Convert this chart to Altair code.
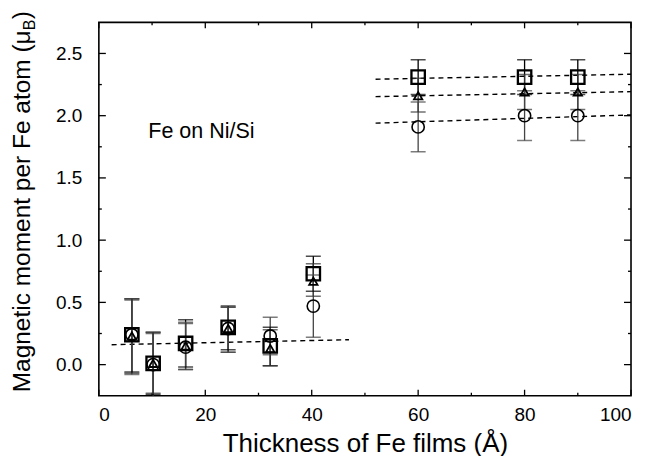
import altair as alt
import pandas as pd

# ---------------- data ----------------
thickness = [6.2, 10.2, 16.3, 24.3, 32.2, 40.3, 60, 80, 90]

sq_m  = [0.24, 0.01, 0.17, 0.30, 0.15, 0.73, 2.31, 2.31, 2.31]
sq_lo = [-0.06, -0.24, -0.02, 0.12, -0.01, 0.59, 2.17, 2.17, 2.17]
sq_hi = [0.53, 0.26, 0.36, 0.47, 0.30, 0.87, 2.45, 2.45, 2.45]

tr_m  = [0.23, 0.01, 0.15, 0.29, 0.13, 0.67, 2.16, 2.19, 2.19]
tr_lo = [-0.07, -0.23, -0.04, 0.10, -0.01, 0.55, 2.03, 2.05, 2.05]
tr_hi = [0.52, 0.25, 0.33, 0.46, 0.28, 0.81, 2.30, 2.33, 2.33]

ci_m  = [0.24, 0.00, 0.14, 0.29, 0.23, 0.47, 1.91, 2.00, 2.00]
ci_lo = [-0.08, -0.30, -0.04, 0.10, 0.08, 0.22, 1.71, 1.80, 1.80]
ci_hi = [0.53, 0.26, 0.34, 0.46, 0.38, 0.72, 2.11, 2.20, 2.20]

# dashed guide lines (end points)
fit_names = ["low", "square", "triangle", "circle"]
fit_x0 = [2.4, 52, 52, 52]
fit_x1 = [47, 100, 100, 100]
fit_y0 = [0.16, 2.293, 2.153, 1.940]
fit_y1 = [0.20, 2.333, 2.193, 2.006]

x_major = [0, 20, 40, 60, 80, 100]
x_minor = [10, 30, 50, 70, 90]
y_major = [0.0, 0.5, 1.0, 1.5, 2.0, 2.5]
y_minor = [0.25, 0.75, 1.25, 1.75, 2.25]

annotation = "Fe on Ni/Si"
x_title = "Thickness of Fe films (Å)"
y_title_main = "Magnetic moment per Fe atom (μ"
y_title_sub = "B"
y_title_end = ")"

# ---------------- tables ----------------
rows = []
for name, ms, los, his in [("square", sq_m, sq_lo, sq_hi),
                           ("triangle", tr_m, tr_lo, tr_hi),
                           ("circle", ci_m, ci_lo, ci_hi)]:
    for x, m, lo, hi in zip(thickness, ms, los, his):
        rows.append({"series": name, "x": x, "y": m, "lo": lo, "hi": hi})
df = pd.DataFrame(rows)

fit_rows = []
for n, a, b, c, d in zip(fit_names, fit_x0, fit_x1, fit_y0, fit_y1):
    fit_rows.append({"line": n, "x": a, "y": c})
    fit_rows.append({"line": n, "x": b, "y": d})
fit_df = pd.DataFrame(fit_rows)

W, H = 533, 374
FONT = "Liberation Sans"

xs = alt.Scale(domain=[0, 100], nice=False, zero=False)
ys = alt.Scale(domain=[-0.25, 2.75], nice=False, zero=False)

x_axis = alt.Axis(values=x_major, ticks=False, domain=False, grid=False,
                  labelFontSize=19, labelPadding=10, labelFont=FONT,
                  labelColor="black", title=x_title, titleFontSize=26,
                  titleFont=FONT, titleFontWeight="normal", titleColor="black",
                  titlePadding=6, format="d")
y_axis = alt.Axis(values=y_major, ticks=False, domain=False, grid=False,
                  labelFontSize=19, labelPadding=17, labelFont=FONT,
                  labelColor="black", format=".1f", title=None)


def X(field):
    return alt.X(f"{field}:Q", scale=xs, axis=x_axis)


def Y(field):
    return alt.Y(f"{field}:Q", scale=ys, axis=y_axis)


layers = []

# tick marks (inward, mirrored on all four sides)
def xticks(vals, length):
    d = pd.DataFrame({"x": vals})
    bottom = alt.Chart(d).mark_rule(color="black", strokeWidth=1.3).encode(
        x=X("x"), y=alt.value(H), y2=alt.value(H - length))
    top = alt.Chart(d).mark_rule(color="black", strokeWidth=1.3).encode(
        x=X("x"), y=alt.value(0), y2=alt.value(length))
    return [bottom, top]


def yticks(vals, length):
    d = pd.DataFrame({"y": vals})
    left = alt.Chart(d).mark_rule(color="black", strokeWidth=1.3).encode(
        y=Y("y"), x=alt.value(0), x2=alt.value(length))
    right = alt.Chart(d).mark_rule(color="black", strokeWidth=1.3).encode(
        y=Y("y"), x=alt.value(W), x2=alt.value(W - length))
    return [left, right]


layers += xticks(x_major, 6) + xticks(x_minor, 3)
layers += yticks(y_major, 7) + yticks(y_minor, 3)

# dashed guide lines
fit = alt.Chart(fit_df).mark_line(color="black", strokeWidth=1.4,
                                  strokeDash=[5, 4], clip=True).encode(
    x=X("x"), y=Y("y"), detail="line:N")
layers.append(fit)

# error bars
bar_color = alt.Color("series:N", scale=alt.Scale(
    domain=["square", "triangle", "circle"],
    range=["#000000", "#333333", "#444444"]), legend=None)
cap_color = alt.Color("series:N", scale=alt.Scale(
    domain=["square", "triangle", "circle"],
    range=["#000000", "#8a8a8a", "#555555"]), legend=None)

bars = alt.Chart(df).mark_rule(strokeWidth=1.3, clip=True).encode(
    x=X("x"), y=Y("lo"), y2="hi:Q", color=bar_color)
caps_lo = alt.Chart(df).mark_tick(orient="horizontal", size=15, thickness=1.5,
                                  clip=True).encode(
    x=X("x"), y=Y("lo"), color=cap_color)
caps_hi = alt.Chart(df).mark_tick(orient="horizontal", size=15, thickness=1.5,
                                  clip=True).encode(
    x=X("x"), y=Y("hi"), color=cap_color)
layers += [bars, caps_lo, caps_hi]

# markers
circ = alt.Chart(df[df.series == "circle"]).mark_point(
    shape="circle", size=150, filled=False, color="black", strokeWidth=1.6,
    opacity=1).encode(x=X("x"), y=Y("y"))
sq = alt.Chart(df[df.series == "square"]).mark_point(
    shape="square", size=180, filled=False, color="black", strokeWidth=2.3,
    opacity=1).encode(x=X("x"), y=Y("y"))
tri = alt.Chart(df[df.series == "triangle"]).mark_point(
    shape="triangle-up", size=70, filled=False, color="black", strokeWidth=1.8,
    opacity=1).encode(x=X("x"), y=Y("y"))
layers += [circ, sq, tri]

# annotation
ann = alt.Chart(pd.DataFrame({"x": [9.3], "y": [1.87], "t": [annotation]})).mark_text(
    align="left", baseline="middle", fontSize=21.5, font=FONT, color="black").encode(
    x=X("x"), y=Y("y"), text="t:N")
layers.append(ann)

# y axis title with subscript
TX = -76
YE = 8
t1 = alt.Chart(pd.DataFrame({"t": [y_title_main]})).mark_text(
    angle=270, align="right", baseline="middle", fontSize=24.5, font=FONT,
    color="black").encode(x=alt.value(TX), y=alt.value(YE), text="t:N")
t2 = alt.Chart(pd.DataFrame({"t": [y_title_sub]})).mark_text(
    angle=270, align="left", baseline="middle", fontSize=16, font=FONT,
    color="black").encode(x=alt.value(TX + 7), y=alt.value(YE), text="t:N")
t3 = alt.Chart(pd.DataFrame({"t": [y_title_end]})).mark_text(
    angle=270, align="left", baseline="middle", fontSize=24.5, font=FONT,
    color="black").encode(x=alt.value(TX), y=alt.value(YE - 11), text="t:N")
layers += [t1, t2, t3]

chart = alt.layer(*layers).properties(
    width=W, height=H,
    autosize=alt.AutoSizeParams(type="none"),
    padding={"left": 91, "top": 14, "right": 8, "bottom": 60},
    background="white",
).configure_view(stroke="black", strokeWidth=1.6)

chart.save("out.html", embed_options={"renderer": "svg", "actions": False})
